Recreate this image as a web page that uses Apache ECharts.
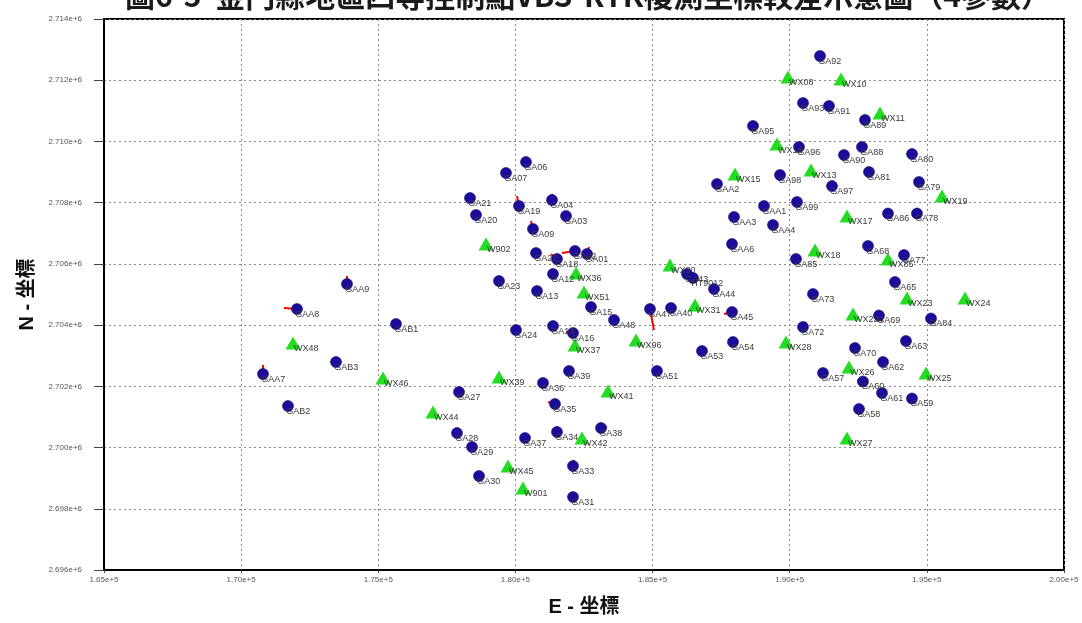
<!DOCTYPE html>
<html>
<head>
<meta charset="utf-8">
<script src="https://cdn.jsdelivr.net/npm/echarts@6/dist/echarts.min.js"></script>
<style>
html,body{margin:0;padding:0;background:#fff;}
#chart{width:1082px;height:623px;}
</style>
</head>
<body>
<div id="chart"></div>
<script>
// ---- data ----
const titleText = '圖6-5  金門縣地區四等控制點VBS-RTK複測坐標較差示意圖（4參數）';
const xAxisTitle = 'E - 坐標';
const yAxisTitle = 'N - 坐標';

const gaNames = ['GA92','GA93','GA91','GA89','GA95','GA96','GA88','GA90','GA80','GA98','GA81','GA97','GA79','GAA2','GAA1','GA99','GA86','GA78','GAA3','GAA4','GAA6','GA68','GA77','GA85','GA65','GA44','GA73','GA45','GA69','GA84','GA72','GA63','GA54','GA70','GA53','GA62','GA57','GA60','GA61','GA59','GA58',
  'GA06','GA07','GA21','GA04','GA19','GA20','GA03','GA09','GA22','GA18','GA02','GA01','GA12','GA23','GA13','GA15','GA47','GA40','GA48','GA24','GA14','GA16','GA43','HT9012',
  'GA39','GA51','GA36','GA27','GA35','GA38','GA34','GA37','GA28','GA29','GA33','GA30','GA31',
  'GAA9','GAA8','GAB1','GAB3','GAA7','GAB2'];
const gaE = [191104,190484,191432,192745,188661,190338,192635,191979,194458,189646,192890,191541,194713,187349,189062,190265,193583,194640,187969,189390,187896,192854,194166,190229,193838,187239,190849,187896,193255,195151,190484,194239,187932,192380,186802,193401,191213,192672,193364,194458,192526,
  180385,179656,178344,181333,180130,178562,181844,180640,180750,181515,182172,182609,181370,179401,180786,182755,184906,185672,183594,180021,181370,182099,186255,186474,
  181953,185161,181005,177943,181443,183120,181515,180349,177870,178417,182099,178672,182099,
  173859,172036,175646,173458,170797,171708];
const gaN = [2712791,2711256,2711158,2710701,2710505,2709819,2709819,2709557,2709590,2708904,2709002,2708544,2708675,2708610,2707891,2708022,2707646,2707646,2707532,2707270,2706650,2706584,2706290,2706160,2705408,2705180,2705016,2704428,2704314,2704216,2703938,2703481,2703448,2703252,2703154,2702795,2702436,2702158,2701782,2701603,2701259,
  2709328,2708969,2708152,2708087,2707891,2707597,2707564,2707140,2706356,2706160,2706421,2706323,2705670,2705441,2705114,2704592,2704526,2704559,2704167,2703840,2703971,2703742,2705670,2705539,
  2702501,2702501,2702109,2701815,2701423,2700639,2700508,2700312,2700475,2700018,2699397,2699071,2698385,
  2705343,2704526,2704036,2702795,2702403,2701357];

const wxNames = ['WX08','WX10','WX11','WX14','WX15','WX13','WX19','WX17','WX18','WX85','WX23','WX24','WX22','WX28','WX26','WX25','WX27','WX30','WX31','WX96','W902','WX36','WX51','WX37','WX39','WX41','WX42','WX45','W901','WX44','WX46','WX48'];
const wxE = [189937,191870,193291,189536,188005,190776,195552,192088,190922,193583,194276,196390,192307,189864,192161,194968,192088,185635,186547,184396,178927,182208,182500,182172,179401,183375,182427,179729,180276,176995,175172,171891];
const wxN = [2712105,2712040,2710929,2709916,2708936,2709067,2708218,2707564,2706454,2706160,2704886,2704886,2704363,2703448,2702632,2702436,2700312,2705964,2704657,2703514,2706650,2705702,2705082,2703350,2702305,2701848,2700312,2699397,2698679,2701162,2702272,2703416];

// coordinate differences (drawn exaggerated, in plot units)
const vecNames = ['GAA9','GAA8','GAB3','GAA7','GA19','GA04','GA09','GA18','GA02','GA01','GA16','GA47','GA45','GA51','GA35','GA38','GA34','GA33','GA31','GA28','GA29','GA72','GA69','GA68','GA60','GA62','GA63','GA84','HT9012','GA44','GA93','GA89','GA88','GAA1','GA86','GA78','GA59'];
const vecDE = [0,-474,-36,0,-73,0,-73,-219,-474,73,-255,146,-292,-109,-255,219,0,36,0,73,0,109,109,109,-219,-109,-109,-109,73,36,0,0,0,0,0,0,0];
const vecDN = [261,33,131,294,327,196,261,163,-65,229,33,-686,-65,-163,65,33,196,196,163,-98,-131,163,-196,-163,33,-131,98,0,-131,-98,-90,-90,-90,-90,-90,-90,-80];

const xMin = 165000, xMax = 200000, xStep = 5000;
const yMin = 2696000, yMax = 2714000, yStep = 2000;

// ---- build ----
const gaData = gaNames.map((n, i) => ({ name: n, value: [gaE[i], gaN[i]] }));
const wxData = wxNames.map((n, i) => ({ name: n, value: [wxE[i], wxN[i]] }));
const vecData = vecNames.map((n, i) => {
  const k = gaNames.indexOf(n);
  const e = gaE[k], nn = gaN[k];
  return { coords: [[e, nn], [e + vecDE[i], nn + vecDN[i]]] };
});

const labelFont = { fontSize: 9, color: '#3a3a3a', fontFamily: 'Liberation Sans, Arial, sans-serif' };

const chart = echarts.init(document.getElementById('chart'), null, { renderer: 'canvas' });
chart.setOption({
  animation: false,
  backgroundColor: '#ffffff',
  graphic: [{
    type: 'text', x: 588, y: -4, z: 10,
    style: {
      text: titleText, textAlign: 'center', textVerticalAlign: 'middle',
      font: 'bold 30px "Noto Sans CJK TC", sans-serif', fill: '#1a1a1a'
    }
  }],
  grid: { left: 104, right: 18, top: 19, bottom: 53, show: true, borderColor: '#000', borderWidth: 2, backgroundColor: 'transparent' },
  xAxis: {
    type: 'value', min: xMin, max: xMax, interval: xStep,
    name: xAxisTitle, nameLocation: 'middle', nameGap: 27,
    nameTextStyle: { fontSize: 20, fontWeight: 'bold', color: '#111', fontFamily: 'Liberation Sans, "Noto Sans CJK TC", sans-serif' },
    axisLine: { show: true, lineStyle: { color: '#000', width: 2 } },
    axisTick: { show: true, length: 3, lineStyle: { color: '#444' } },
    axisLabel: { margin: 6, fontSize: 8, color: '#555', fontFamily: 'Liberation Sans, Arial, sans-serif', formatter: v => v.toExponential(2) },
    splitLine: { show: true, lineStyle: { color: '#888', type: [2, 3], width: 1 } }
  },
  yAxis: {
    type: 'value', min: yMin, max: yMax, interval: yStep,
    name: yAxisTitle, nameLocation: 'middle', nameGap: 66, nameRotate: 90,
    nameTextStyle: { fontSize: 20, fontWeight: 'bold', color: '#111', fontFamily: 'Liberation Sans, "Noto Sans CJK TC", sans-serif' },
    axisLine: { show: true, lineStyle: { color: '#000', width: 2 } },
    axisTick: { show: true, length: 10, lineStyle: { color: '#444' } },
    axisLabel: { margin: 22, fontSize: 8, color: '#555', fontFamily: 'Liberation Sans, Arial, sans-serif', formatter: v => v.toExponential(3) },
    splitLine: { show: true, lineStyle: { color: '#888', type: [2, 3], width: 1 } }
  },
  series: [
    {
      type: 'lines', coordinateSystem: 'cartesian2d', z: 2,
      lineStyle: { color: '#ff0000', width: 2, opacity: 1 },
      data: vecData, silent: true
    },
    {
      type: 'scatter', name: 'GA', z: 3, symbol: 'circle', symbolSize: 11,
      itemStyle: { color: '#1c0c9c', borderColor: '#12086a', borderWidth: 0.6, opacity: 1 },
      label: { show: true, formatter: '{b}', position: [4, 11], align: 'left', verticalAlign: 'middle', ...labelFont },
      data: gaData
    },
    {
      type: 'scatter', name: 'WX', z: 3, symbol: 'triangle', symbolSize: [15, 13],
      itemStyle: { color: '#22dd22', opacity: 1 },
      label: { show: true, formatter: '{b}', position: [8.5, 12.5], align: 'left', verticalAlign: 'middle', ...labelFont },
      data: wxData
    }
  ]
});
</script>
</body>
</html>
